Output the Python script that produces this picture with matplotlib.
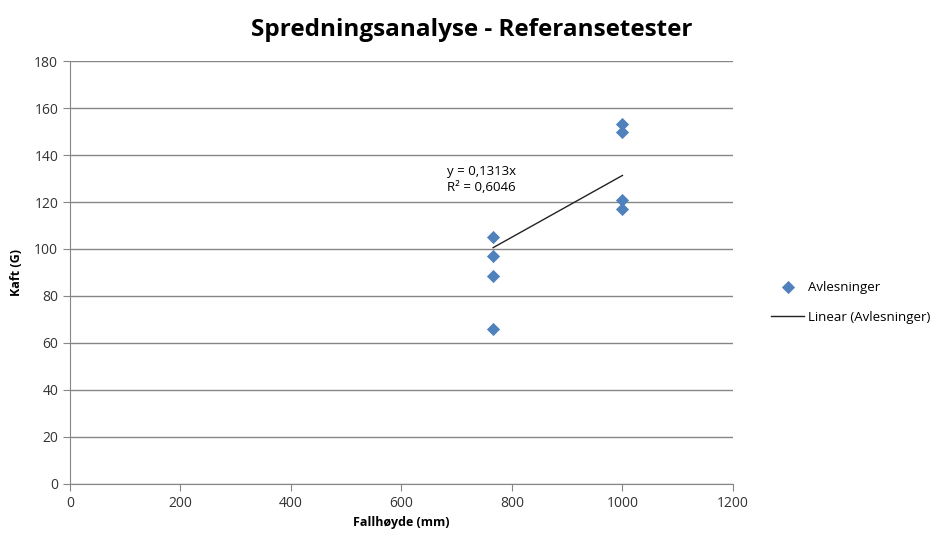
import matplotlib.pyplot as plt
import numpy as np

plt.rcParams['font.family'] = ['Open Sans', 'DejaVu Sans']

# readings (drop height mm, force G)
fall_mm = [766, 766, 766, 766, 1000, 1000, 1000, 1000]
kraft_g = [105, 97, 88.5, 66, 153, 150, 121, 117]
slope = 0.1313
r2 = 0.6046
x_ticks = [0, 200, 400, 600, 800, 1000, 1200]
y_ticks = [0, 20, 40, 60, 80, 100, 120, 140, 160, 180]

blue = '#4F81BD'
grey = '#868686'

fig = plt.figure(figsize=(9.37, 5.38), dpi=100)
ax = fig.add_axes([0.0747, 0.1004, 0.7075, 0.7862])

ax.scatter(fall_mm, kraft_g, marker='D', s=45, color=blue, zorder=3,
           label='Avlesninger', linewidths=0)
xt = np.array([min(fall_mm), max(fall_mm)])
ax.plot(xt, slope * xt, color='#222222', linewidth=1, zorder=2,
        label='Linear (Avlesninger)')

ax.set_xlim(0, 1200)
ax.set_ylim(0, 180)
ax.set_xticks(x_ticks)
ax.set_yticks(y_ticks)
ax.yaxis.grid(True, color=grey, linewidth=1)
ax.set_axisbelow(True)
for s in ['top', 'right']:
    ax.spines[s].set_visible(False)
for s in ['left', 'bottom']:
    ax.spines[s].set_color(grey)
ax.tick_params(direction='out', length=5, color=grey, labelsize=10,
               labelcolor='#333333')

ax.set_xlabel('Fallhøyde (mm)', fontsize=9, fontweight='bold', labelpad=4)
ax.set_ylabel('Kaft (G)', fontsize=9, fontweight='bold', labelpad=8)
fig.suptitle('Spredningsanalyse - Referansetester', x=0.503, y=0.966,
             fontsize=17.5, fontweight='bold')

ax.text(744, 129.5, f'y = {slope}x\nR² = {r2}'.replace('.', ','),
        ha='center', va='center', fontsize=9.5, linespacing=1.35)

leg = ax.legend(loc='center left', bbox_to_anchor=(1.04, 0.43), frameon=False,
                fontsize=9.5, handlelength=2.5, labelspacing=1.3,
                handletextpad=0.3)

fig.savefig('out.png', dpi=100)
